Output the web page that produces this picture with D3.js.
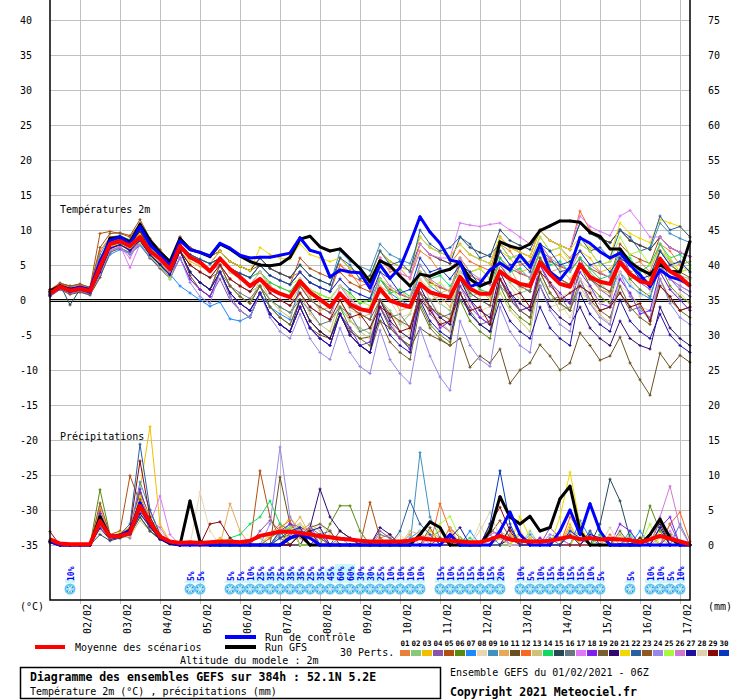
<!DOCTYPE html>
<html>
<head>
<meta charset="utf-8">
<script src="https://cdn.jsdelivr.net/npm/d3@7"></script>
<style>
  body { margin: 0; background: #fff; }
  svg { display: block; }
  text { font-family: "DejaVu Sans Mono", monospace; font-size: 10px; fill: #000; }
</style>
</head>
<body>
<svg id="chart" width="740" height="700"></svg>
<script>
// ---- data (6-hourly steps from 01/02 06Z, 65 steps = 384h) ----
const tempTicks = [-35,-30,-25,-20,-15,-10,-5,0,5,10,15,20,25,30,35,40];
const precipTicks = [0,5,10,15,20,25,30,35,40,45,50,55,60,65,70,75];
const dayLabels = ["02/02","03/02","04/02","05/02","06/02","07/02","08/02","09/02",
                   "10/02","11/02","12/02","13/02","14/02","15/02","16/02","17/02"];
const dayIdx = [3,7,11,15,19,23,27,31,35,39,43,47,51,55,59,63];

const memberColors = ["#e8803a","#88c878","#f0c000","#8855aa","#b05010","#5a8a10","#1e88ff","#e8d8b0",
  "#4090c0","#e8a858","#6a5020","#f86820","#d0c078","#10d860","#284858","#687880","#e078f8","#8020f0",
  "#7a6030","#300870","#f0d800","#2860a0","#905820","#9888e8","#a8f840","#d078d0","#2010a0","#e0d0b0",
  "#880808","#0838c0"];

const meanTemp = [0.9,1.9,1.3,1.6,1.3,4.7,8.0,8.4,7.7,9.0,7.0,5.9,4.4, 7.7,6.1,5.4,4.1, 5.9,4.4,3.3,2.0,
  3.0,1.6,0.9,0.4, 2.7,1.1,0.1,-1.0, 0.9,-0.6,-1.3,-1.6, 1.6,-0.1,-0.6,-1.0, 2.3,1.1,0.7,0.4,
  3.3,1.6,0.9,0.9, 4.1,3.0,2.3,2.0, 5.4,3.7,2.3,1.9, 5.1,3.3,2.6,2.3, 5.4,3.7,2.7,2.3, 5.9,4.1,3.3,2.0];
const controlTemp = [1.0,1.8,1.5,1.8,1.5,5.5,8.5,9,8,10.5,8,6.5,5, 8.5,7.2,6.8,6.3, 8.1,7.4,6.4,6.0,
  6.1,6.1,6.4,6.7, 8.9,7.1,6.7,3.3, 4.3,4.0,3.9,1.7, 5.0,3.1,4.6,8.1, 11.9,9.7,8.1,5.7,
  5.4,1.9,2.4,4.3, 5.3,4.3,6.4,4.7, 7.9,4.0,2.9,4.7, 8.9,8.1,6.9,6.0, 6.7,5.0,3.6,1.9, 4.3,3.3,2.9,2.1];
const gfsTemp = [1.2,2,1.5,1.8,1.4,5,8.8,9,8.3,10.8,8.5,6.8,5.5, 8.8,7.2,6.8,6.2, 8,7.3,6.3,5.5,
  5.0,4.9,5.1,6.1, 8.7,9.1,7.6,7.0, 7.3,5.9,4.5,2.6, 5.6,4.9,3.4,2.0, 3.7,3.4,4.0,4.4,
  5.4,3.0,2.0,2.6, 8.3,7.7,7.3,8.0, 9.9,10.6,11.3,11.3, 11.1,9.7,9.1,7.3, 7.3,5.4,4.4,3.7, 5.1,4.1,4.0,8.4];

const memberTemps = [
  [1.2,2.2,1.8,2,1.6,6,8.5,8.8,8,9.5,7.5,6.5,5, 8,6.5,5.8,5.2, 6,4.5,3.8,3.2, 5,3.5,2.8,2.2, 4,2.5,1.8,1.2, 5,4,2,2.5, 6,4,4.5,3, 7,6,4,4.5, 6,4,4.5,3, 8,7,5,5.5, 9,7,7.5,6, 8,7,5,5.5, 7,5,5.5,4, 8,7,5,5.5],
  [0.8,1.8,1.5,1.4,1.2,4,7.5,8,7.2,8.5,6.5,5,3.2, 8,6,5,4.2, 5,3,2,1.2, 2,0,-1,-1.8, 1,-1,-2,-2.8, -1,-3,-4,-4.8, 0,-1.5,-3.5,-2, 2,1,-0.5,-1.5, 3,0.5,1,0.5, 4,2.5,1,1.5, 6,3.5,3,2, 5,4,2.5,1, 6,3,3.5,2.5, 7,5.5,3.5,3],
  [1,2,1.4,1.7,1.3,4.5,8.2,8.6,7.8,9.2,7.4,6.2,4.6, 7,5.5,4.8,4.2, 6,4.5,3.8,3.2, 4,2.5,1.8,1.2, 3,1.5,0.8,0.2, 2,1,-0.5,0, 3,1,1.5,0, 4,3,1,1.5, 6,4,4.5,3, 7,6,4,4.5, 8,6,6.5,5, 7,6,4,4.5, 6,4,4.5,3, 7,6,4,4.5],
  [0.6,1.6,1,1.2,0.8,3.5,7,7.6,6.5,8,6,4.5,3, 6,3,1.5,0.5, 3,0,-1.5,-2.5, 1,-2,-3.5,-4.5, -1,-4,-5.5,-6.5, -2,-5,-6.5,-7.5, -1,-4,-5.5,-6.5, 1,-2,-3.5,-4.5, 2,-1,-2.5,-3.5, 3,0,-1.5,-2.5, 5,2,0.5,-0.5, 6,3,1.5,0.5, 7,4,2.5,1.5, 6,3,1.5,0.5],
  [1.5,2.4,2,2.2,1.8,9.5,9.8,9.5,9,11,8.5,7,5.5, 9,7.5,6.8,6.2, 7,5.5,4.8,4.2, 5,3.5,2.8,2.2, 6,4.5,3.8,3.2, 4,2.5,1.8,1.2, 3,1.5,0.8,0.2, 4,2.5,1.8,1.2, 5,3.5,2.8,2.2, 6,4.5,3.8,3.2, 7,5.5,4.8,4.2, 6,4.5,3.8,3.2, 8,6.5,5.8,5.2, 9,7.5,6.8,6.2],
  [0.7,1.7,1.2,1.5,1,4,7.6,8,7.4,8.7,6.6,5.2,3.8, 7,4,2.5,1.5, 5,2,0.5,-0.5, 2,-1,-2.5,-3.5, 0,-3,-4.5,-5.5, -1,-4,-5.5,-6.5, -1,-4,-5.5,-6.5, -0.5,-3.5,-5,-6, 0,-3,-4.5,-5.5, 2,-1,-2.5,-3.5, 4,1,-0.5,-1.5, 5,2,0.5,-0.5, 6,3,1.5,0.5, 5,2,0.5,-0.5],
  [0.9,2,1.5,1.8,1.4,3.5,6.5,7.2,6.6,7.8,6,4.8,3.7, 2,1,0,-0.9, -0.3,-2.7,-3,-2.3, 1,-1,-2,-2.8, 2,0,-1,-1.8, 1,-1,-2,-2.8, 3,1,0,-0.8, 4,2,1,0.2, 3,1,0,-0.8, 5,3,2,1.2, 6,4,3,2.2, 5,3,2,1.2, 4,2,1,0.2, 5,3,2,1.2],
  [1,2,1.6,1.8,1.5,5,8,8.5,7.8,9,7.2,6,4.5, 8,6,5,4.2, 6,4,3,2.2, 4,2,1,0.2, 3,1,0,-0.8, 1,-1.5,-2,-1, 0,-2.5,-3,-4.5, 1,0,-2,-2.5, 2,-0.5,-1.5,-1, 3,2,0,-1.5, 2,-1,-0.5,-2.5, 1,0,-2.5,-3, 2,1,-1,-1.5, 3,0.5,1,-0.5],
  [1.3,2.3,1.9,2.1,1.7,6.5,9,9.2,8.6,10.2,8,6.8,5.4, 9,7.5,6.8,6.2, 7,5.5,4.8,4.2, 6,4.5,3.8,3.2, 5,3.5,2.8,2.2, 7,5.5,4.8,4.2, 8,6.5,5.8,5.2, 9,7.5,6.8,6.2, 8,6.5,5.8,5.2, 9,7.5,6.8,6.2, 10,8.5,7.8,7.2, 11,9.5,8.8,8.2, 10,8.5,7.8,7.2, 11,9.5,8.8,8.2],
  [0.8,1.9,1.3,1.6,1.2,4.8,8,8.4,7.6,9,7,5.8,4.2, 7,5,4,3.2, 5,3,2,1.2, 3,1,0,-0.8, 2,0.5,-1.5,-1, 1,-0.5,-2.5,-2, 2,1,-1.5,-1, 3,0,0.5,-1, 4,3,1.5,0, 6,4.5,2,2.5, 7,4,4.5,3, 5,3.5,1.5,1, 6,5,3,2.5, 8,5.5,5,4],
  [0.5,1.5,0.8,1.1,0.7,3.2,6.8,7.4,6.8,8.2,6,4.6,3.2, 7,3.5,1.5,0.5, 4,0.5,-1.5,-2.5, 1,-2,-3.5,-4.5, -1,-4,-5,-5.5, -2,-4.5,-5.5,-5.3, -3,-4,-5.3,-7, -4,-5,-5.7,-6.5, -5.5,-9.6,-8,-9, -7,-11.9,-10,-9, -6.4,-8,-10,-9, -4.7,-6.5,-8.6,-8, -5.3,-9,-11.4,-13.6, -7.6,-9.6,-7.9,-8.9],
  [1.4,2.3,1.9,2.2,1.7,7,9,9,8.4,10,7.8,6.6,5, 9,7.5,6.8,6.2, 7,5.5,4.8,4.2, 6,4.5,3.8,3.2, 4,2.5,1.8,1.2, 5,3.5,2.8,2.2, 6,4.5,3.8,3.2, 8,6.5,5.8,5.2, 7,5.5,4.8,4.2, 9,7.5,6.8,6.2, 10,8.5,7.8,7.2, 12.7,10,8.8,8.2, 10,8.5,7.8,7.2, 9,7.5,6.8,6.2],
  [0.7,1.7,1.1,1.4,1,4.2,7.6,8,7.3,8.6,6.6,5.4,3.9, 7,4,2.5,1.5, 5,2,0.5,-0.5, 3,0,-1.5,-2.5, 1,-2,-3.5,-4.5, 0,-3,-4.5,-5.5, -1,-3,-5.5,-5, 1,-1.5,-3,-4.5, 2,0,-2.5,-2, 1,-1.5,-3,-4.5, 3,1,-1.5,-1, 2,-0.5,-2,-3.5, 3,1,-1,-2.5, 4,1.5,0,-1.5],
  [1,2,1.4,1.7,1.4,5,8.3,8.6,7.9,9.3,7.3,6.1,4.6, 8,6.5,5.8,5.2, 6,4.5,3.8,3.2, 4,2.5,1.8,1.2, 3,1.5,0.8,0.2, 2,1,-0.5,0, 3,1,1.5,0.5, 5,3,3.5,2, 4,3,1.5,1, 6,4,4.5,3, 7,5,5.5,4, 6,4.5,3,3.5, 7,6,4,5, 8,6,6.5,5],
  [1.1,2.2,-0.7,1.5,1.2,4,8,8.8,8.2,9.8,7.6,6.4,5, 8,6.5,5.8,5.2, 7,5.5,4.8,4.2, 6,4.5,3.8,3.2, 5,3.5,2.8,2.2, 6,4.5,3.8,3.2, 7,5.5,4.8,4.2, 8,6.5,5.8,5.2, 9,7.5,6.8,6.2, 10,8.5,7.8,7.2, 10,8.5,7.8,7.2, 11,9.5,8.8,8.2, 10,8.5,7.8,7.2, 9,7.5,6.8,6.2],
  [0.9,1.8,1.2,1.5,1.1,4.4,7.8,8.2,7.4,8.8,6.8,5.6,4, 7,5,4,3.2, 4,2,1,0.2, 2,0,-1,-1.8, 0,-1.5,-3.5,-3, -1,-2,-4.5,-4, 0,-2.5,-2,-4, 1,0,-2.5,-2, 0,-1.5,-3.5,-3, 2,0.5,-1.5,-1, 3,0,0.5,-1.5, 2,1,-1.5,-1, 1,-1.5,-1,-3, 2,0.5,-1.5,-1],
  [1.2,2,1.5,1.8,1.4,5.5,7.5,7.8,4.6,8,7,6,4.8, 8,6.5,5.8,5.2, 6,4.5,3.8,3.2, 5,3.5,2.8,2.2, 4,2.5,1.8,1.2, 3,1.5,0.8,0.2, 6,4.5,3.8,3.2, 8,6.5,6,6, 11,10.7,10.5,10.8, 11,10,9,8, 10,8.5,7.8,7.2, 12,10.5,9.8,9.2, 12,12.8,11,9, 9,7.5,6.8,6.2],
  [0.6,1.6,1,1.3,0.9,3.8,7.4,7.9,7,8.4,6.4,5,3.5, 6,3,1.5,0.5, 4,1,-0.5,-1.5, 1,-2,-3.5,-4.5, -1,-4,-5.5,-6.5, -2,-4,-6.5,-6, -1,-3.5,-5.5,-7, 1,-1,-4,-3, 2,0,-2.5,-3.5, 3,1,-1.5,-1, 5,2.5,1,-0.5, 4,2,-0.5,-1, 3,1,-2,-1.5, 4,1.5,0,-1.5],
  [0.8,1.9,1.3,1.6,1.2,4.6,8,8.3,7.5,9,6.9,5.6,4.1, 7,4,2.5,1.5, 5,2,0.5,-0.5, 2,-1,-2.5,-3.5, 0,-3,-4.5,-5.5, -2,-5,-6.5,-7.5, -3,-6,-7.5,-8.5, -1,-4,-5.5,-6.5, 1,-2,-3.5,-4.5, 3,0,-1.5,-2.5, 4,1,-0.5,-1.5, 3,0,-1.5,-2.5, 2,-1,-2.5,-3.5, 3,0,-1.5,-2.5],
  [0.7,1.7,1.1,1.4,1,3.9,7.3,7.9,7.2,8.5,6.5,5.1,3.6, 7,4,2.5,1.5, 4,1,-0.5,-1.5, 1,-2,-3.5,-4.5, 0,-3,-4.5,-5.5, -2,-5,-6.5,-7.5, 0,-3,-4.5,-5.5, 2,-1,-2.5,-3.5, 3,0,-1.5,-2.5, 4,1,-0.5,-1.5, 2,-1,-2.5,-3.5, -1,-4,-5.5,-6.5, -3,-5.5,-6.5,-7, -1,-4,-5.5,-6.5],
  [1.1,2.1,1.6,1.9,1.5,5.2,8.4,8.8,8,9.5,7.5,6.3,4.8, 8,6.5,5.8,5.2, 7,5.5,4.8,4.2, 7.5,6.5,6,5.8, 8,6.5,6,5.5, 6,4.5,3.8,3.2, 7,5.5,4.8,4.2, 9,7.5,6.8,6.2, 8,6.5,5.8,5.2, 9,7.5,6.8,6.2, 10,8.5,7.8,7.2, 9,7.5,6.8,6.2, 11,9.5,8.8,8.2, 11.5,11,10.5,9],
  [1,2,1.5,1.8,1.3,5,8.5,8.9,8.3,10,7.6,6.3,4.8, 8,6.5,5.8,5.2, 6,4.5,3.8,3.2, 5,3.5,2.8,2.2, 4,2.5,1.8,1.2, 6,5,3,3.5, 7,5,5.5,4, 10,8,7,7.5, 9,8,6,6.5, 8,6,6.5,5, 7,6,4,4.5, 9,7,7.5,6, 10,9,7,7.5, 12,10,10.5,9],
  [1.3,2.4,2,2.3,1.8,7.5,9.5,9.6,9.2,11.5,8.8,7.2,5.6, 8,6,5,4.2, 6,4,3,2.2, 4,2,1,0.2, 2,0,-1,-1.8, 1,-1,-2,-2.8, 0,-2,-3,-3.8, 1,-1,-2,-2.8, 3,1,0,-0.8, 5,3,2,1.2, 6,4,3,2.2, 5,3,2,1.2, 6,4,3,2.2, 7,5,4,3.2],
  [0.6,1.6,1,1.3,0.9,3.6,7,7.5,6.6,8,6.1,4.7,3.3, 6,2.5,0.5,-0.5, 4,0.5,-1.5,-2.5, 1,-2.5,-4.5,-5.5, -2,-5.5,-7.5,-8.5, -4,-7.5,-9.5,-10.5, -4.3,-8.5,-10.5,-11.9, -4,-8,-11,-12.9, -3,-6.5,-8.5,-9.5, -1,-4.5,-6.5,-7.5, 2,-1.5,-3.5,-4.5, 3,-0.5,-2.5,-3.5, 4,0.5,-1.5,-2.5, 3,-0.5,-2.5,-3.5],
  [1,2,1.5,1.8,1.3,4.5,7.8,8,7.4,8.2,6.3,4.8,3, 8,6.5,5.8,5.2, 6,4.5,3.8,3.2, 5,3.5,2.8,2.2, 3,1.5,0.8,0.2, 2,0.5,-0.2,-0.8, 3,2,0,0.5, 4,2,2.5,1, 6,4,4.5,3, 8,6,6.5,5, 9,7,7.5,5.5, 8,7,5,5.5, 9,6.5,7,5, 7,6,4,4.5],
  [1.2,2.2,1.7,2,1.6,5.5,7.2,7.6,6,8.6,6.8,5.5,4, 8,6,5,4.2, 5,3,2,1.2, 3,1,0,-0.8, 1,-1,-2,-2.8, 2,0,-1,-1.8, 4,2,1,0.2, 5,3,2,1.2, 6,4,3,2.2, 7,5,4,3.2, 8,6,5,4.2, 7,5,4,3.2, 6,4,3,2.2, 5,3,2,1.2],
  [0.7,1.7,1.1,1.4,1,4,7.4,7.9,7.1,8.5,6.4,5,3.6, 7,4,2.5,1.5, 4,1,-0.5,-1.5, 1,-2,-3.5,-4.5, -1,-4,-5.5,-6.5, -2,-5,-6.5,-7.5, -2,-5,-6.5,-7.5, 0,-3,-4.5,-5.5, 1,-2,-3.5,-4.5, 0,-3,-4.5,-5.5, -1,-4,-5.5,-6.5, 1,-2,-3.5,-4.5, 0,-3,-4.5,-5.5, -2,-5,-6.5,-7.5],
  [1,1.9,1.4,1.7,1.3,4.8,8.1,8.5,7.7,9,7.1,5.9,4.4, 8,6,5,4.2, 6,4,3,2.2, 4,2,1,0.2, 3,1.5,-0.5,0, 2,0.5,-1.5,-1, 1,0,-2.5,-2, 3,1.5,-0.5,0.5, 4,2.5,0.5,1, 5,3.5,1.5,2, 4,2.5,0.5,1, 3,1.5,-0.5,0, 4,2.5,0.5,1, 6,4,2.5,3],
  [1.5,2.1,1.6,1.9,1.5,5,8.2,8.6,7.9,9.8,7.2,6,4.5, 7,5,4,3.2, 5,3,2,1.2, 3,1,0,-0.8, 1,-1,-2,-2.8, 0,-2.5,-2,-4, -1,-2,-4.5,-4, 0,-1.5,-3.5,-3, 1,-1.5,-1,-3.5, 3,0.5,1,-1, 4,2.5,0,1, 2,1,-1.5,-1, 1,-1,-0.5,-3, 2,0.5,-1.5,-1],
  [1.1,2.1,1.6,1.8,1.4,5.3,8.6,9,8.2,10,7.6,6.4,4.9, 8,6.5,5.8,5.2, 6,4.5,3.8,3.2, 5,3.5,2.8,2.2, 4,2.5,1.8,1.2, 3,1.5,0.8,0.2, 4,3,1,1.5, 6,4,4.5,3, 5,4,2,2.5, 7,5,5.5,4, 8,7,5,5.5, 7,5,5.5,4, 6,5,3,3.5, 7,5,5.5,4]
];

const meanPrecip = [0.8,0.2,0.1,0.1,0.1,3.4,1.2,1.3,1.7,5.6,3.2,1.2,0.5, 0.3,0.4,0.3,0.4, 0.5,0.5,0.4,0.6,
  1.3,1.6,1.9,1.9, 1.7,1.5,1.3,1.1, 0.9,0.8,0.6,0.5, 0.5,0.5,0.5,0.6, 1.0,0.8,0.7,0.6,
  0.5,0.4,0.4,0.8, 1.3,0.8,0.6,0.5, 0.5,0.6,0.9,1.2, 0.8,1.0,0.8,0.9, 0.8,0.7,0.4,0.8, 1.3,0.9,0.5,0.1];
const controlPrecip = [.5,0,0,0,0,3.5,1.2,1.4,2,6,3,1,.3, 0,0,0,0, 0,0,0,0, 0,0,0,1, 1.5,1,0,0, 0,0,0,0,
  0,0,0,0, 0,0,0,1.5, 0,0,0,0, 2,4.7,1.5,0, 0,0,2,5, 1.5,5.9,2,0, 0,0,0,0, 0,0,0,0];
const gfsPrecip = [.5,0,0,0,0,4,1.2,1.2,2,5.5,3,1,.2, 0,6.3,.5,0, 0,0,0,0, 0,0,0,1, 1.5,0,0,0, 0,0,0,0,
  0,0,0,0, 1.5,3.3,2.5,0, 0,0,0,2, 6.9,4,3,4.1, 2,2.5,6.6,8.4, 2,0,0,0, 0,0,0,1.5, 3.7,1,0,0];

const memberPrecip = [
  [.5,0,0,0,0,4,1,1.5,2,6,3,1,.3, 0,0,0,0, 0,0,0,0, 0,1.5,3,2, 1,0,0,0, 0,0,0,0, 1,1.5,0,0, 0,1,2,0, 0,0,0,0, 1,0,0,0, 1,0,0,2, 1.5,0,0,1.5, 0,0,0,1, 0,0,0,0],
  [.3,0,0,0,0,3,1,1,1.5,5,2.5,1,.2, 0,0,0,0, 0,0,0,.5, 1,0,0,2.5, 3,1.5,0,0, 0,0,0,0, 0,0,0,1.5, 0,0,0,0, 1,.5,0,0, 0,0,0,2, 0,1,0,0, 0,0,0,0, 1.5,0,0,0, 0,1.5,0,0],
  [.4,0,0,0,0,2.5,1,1.2,2,8,16.9,3,.5, 0,0,0,0, 1,0,0,0, 0,0,2,4, 2,1,0,0, 0,0,0,0, 0,0,0,0, 0,2,1,0, 0,0,0,0, 0,0,2,0, 0,0,0,3, 0,0,1.5,0, 0,0,0,0, 2,0,0,0],
  [.6,0,0,0,0,3.5,1.2,1.5,1,7,3.5,1.5,.3, 0,0,0,0, 0,0,0,0, 2,3.5,2,0, 0,0,1.5,2, 0,0,0,0, 2,1,0,0, 0,0,0,0, 0,0,0,0, 0,1.5,0,0, 0,2.5,1,0, 0,0,0,0, 0,1,0,0, 0,3,0,0],
  [.5,0,0,0,0,5,1.5,2,9.9,6,2,.8,.2, 0,0,0,0, 0,0,0,0, 10.6,4,1,0, 0,2,1,0, 0,0,0,6.1, 1,0,0,0, 0,0,0,2.5, 1,0,0,0, 0,0,0,0, 0,0,0,0, 0,0,0,0, 0,0,0,0, 0,0,0,0],
  [.8,0,0,0,0,7.9,1.5,1,1.5,4,2,1,.3, 0,0,0,0, 0,0,0,0, 0,1,2,0, 0,0,0,3, 5.6,5.6,2,0, 0,0,0,0, 0,0,0,0, 0,0,0,2.5, 1,0,0,0, 0,0,0,0, 0,0,0,0, 0,0,0,5.6, 2,0,0,0],
  [.4,0,0,0,0,4.5,1,1.3,2.5,5.5,3,1,.2, 0,0,0,0, 0,0,0,0, 0,0,0,1, 2,3,0,0, 0,0,0,0, 0,0,0,1, 2,0,0,0, 0,2,0,1.5, 0,0,0,1.5, 0,0,0,0, 3.5,1,0,0, 0,0,2,0, 0,0,0,0],
  [.3,0,0,0,0,2,.8,1,1.5,4,4.5,2,.5, 0,0,7.6,2, 0,0,0,0, 0,0,0,0, 0,2,3,1.5, 0,0,0,0, 0,0,1.5,0, 0,0,0,0, 0,0,3,0, 0,0,0,0, 0,0,0,2, 0,0,0,0, 0,0,0,1, 0,0,0,0],
  [.5,0,0,0,0,3,1,1.5,2,9,5,1.5,.3, 0,0,0,0, 0,0,0,0, 0,0,1.5,3, 2,0,0,0, 0,0,0,0, 0,0,0,0, 13.2,4,1,0, 0,0,0,0, 0,0,0,0, 0,1,0,0, 0,0,0,0, 0,2,0,0, 0,0,3,0],
  [.4,0,0,0,0,5.5,1.2,1,1.8,5,3,1,.4, 0,0,0,0, 0,5.9,2,0, 0,0,0,2, 4,1.5,0,0, 0,0,0,0, 0,0,0,1.5, 0,0,0,2.5, 0,0,0,0, 0,1.5,0,0, 0,0,0,2.5, 0,0,0,0, 1,0,0,0, 1,0,0,0],
  [.6,0,0,0,0,3,1,1.4,1.5,7.5,4,1.2,.2, 0,0,0,0, 0,0,0,0, 0,0,9.7,3, 1.5,0,0,0, 2,1,0,0, 0,0,0,0, 0,0,1,0, 0,0,0,0, 0,0,1.5,0, 0,0,0,0, 0,0,0,0, 0,0,0,0, 0,0,0,0],
  [.5,0,0,0,0,4,1.3,1.6,2.5,5,2.5,.8,.3, 0,0,0,0, 0,0,0,0, 0,1,2.5,3.5, 0,0,0,0, 0,0,0,0, 0,0,0,0, 0,0,5.9,2, 0,0,0,0, 0,2.5,0,0, 0,0,0,4, 2,0,0,0, 0,0,0,0, 0,3,4.7,.5],
  [.3,0,0,0,0,2.5,.8,1,1.2,3.5,2,.7,.2, 0,0,0,0, 0,0,0,0, 0,0,0,0, 2,3,2,1, 0,0,0,0, 0,0,0,2, 1.5,0,0,0, 0,0,0,0, 2,1,0,0, 0,0,0,0, 2.5,0,0,0, 0,0,1,0, 0,0,0,0],
  [.4,0,0,0,0,3,1,1.2,2,6.5,3,1,.3, 0,0,0,0, 0,1,1.5,3, 4,6.3,3,2, 1.5,0,0,0, 0,0,0,0, 0,0,0,0, 0,0,0,0, 0,1,0,0, 2,0,0,0, 0,0,0,0, 0,0,1.5,0, 0,1.5,0,0, 2.5,0,0,0],
  [.5,0,0,0,0,1.5,.6,1,1.5,4,2,.8,.2, 0,0,0,0, 0,0,0,0, 0,0,1,1.5, 2,0,0,0, 0,0,0,0, 0,0,0,0, 0,0,0,0, 1,0,0,0, 0,0,0,0, 0,0,0,1.5, 0,0,3,9.4, 6.3,1,0,0, 0,0,0,0],
  [.4,0,0,0,0,3.5,1.1,1.3,1.8,5.5,3.5,1,.3, 0,0,0,0, 0,0,0,0, 0,0,0,0, 1.5,2.5,1.5,0, 0,0,0,0, 1.5,1,0,0, 0,0,0,1.5, 0,0,0,0, 0,0,0,1, 0,0,0,0, 0,2,0,0, 0,0,0,1.5, 0,0,0,0],
  [.3,0,0,0,0,2.5,1,1.5,2,4.5,3,7,1.5, 0,0,0,0, 0,0,0,0, 0,0,0,1, 2,0,0,0, 0,0,0,0, 0,0,0,0, 0,1.5,0,0, 0,0,0,2, 1.5,0,0,0, 0,0,0,0, 0,0,0,0, 0,1,0,0, 0,2,0,0],
  [.5,0,0,0,0,4.5,1.3,1.2,2,8,3.5,1.2,.3, 0,0,0,0, 0,0,0,0, 0,0,2,3, 2.5,0,1.5,0, 0,0,0,0, 0,0,0,0, 0,0,0,0, 0,0,0,0, 0,0,0,0, 1,0,0,0, 0,0,0,0, 3,2,0,0, 2.5,4,0,0],
  [.6,0,0,0,0,3.8,1,1.4,1.6,6,2.8,1,.2, 0,0,0,0, 0,0,0,0, 0,0,0,0, 1.5,2.5,3,2, 0,0,0,0, 0,0,0,0, 0,2.5,0,0, 0,0,0,0, 0,1,0,0, 0,0,0,0, 2,0,0,0, 2,0,0,0, 0,1.5,0,0],
  [.4,0,0,0,0,3,1,1.6,2.2,5,3,1,.3, 0,0,0,0, 0,0,0,0, 0,0,0,0, 0,2.5,8,4, 2,1,0,0, 2.5,1.5,0,0, 0,0,0,0, 0,0,0,0, 0,1,0,0, 0,0,0,0, 0,0,0,0, 0,0,0,1.5, 3,0,0,0],
  [.5,0,0,0,0,3.2,1.2,1.8,2.5,7,4,1.5,.3, 0,0,0,0, 0,0,0,0, 0,0,0,2, 3,2,0,0, 0,0,0,0, 0,0,0,0, 0,0,0,0, 0,0,0,0, 0,0,4.1,1, 0,0,4,10.4, 3,0,0,0, 0,0,0,1.5, 0,0,0,0],
  [.4,0,0,0,0,4,1.4,1.5,3,14.4,5,1.5,.4, 0,0,0,0, 0,0,0,0, 0,0,2,2.5, 0,0,0,0, 0,0,0,0, 0,0,2,6.3, 3,1.5,0,0, 0,0,0,0, 0,0,0,0, 0,0,0,0, 0,2,0,0, 0,0,1,0, 0,0,0,0],
  [.5,0,0,0,0,6,1.5,1.2,2,6.5,3,1,.2, 0,0,0,0, 0,0,0,0, 0,0,0,1.5, 2.5,2,1,0, 0,0,0,0, 0,0,0,0, 0,0,0,0, 0,0,0,1.5, 3.5,1,0,0, 0,0,0,0, 0,0,0,0, 0,0,0,0, 3.5,0,0,0],
  [.3,0,0,0,0,2.8,.9,1.1,1.4,4.5,2.5,.9,.2, 0,0,0,0, 0,0,0,0, 0,3,14,4, 1.5,0,0,0, 1,0,0,0, 0,0,0,0, 0,0,0,0, 0,0,0,0, 0,0,0,0, 0,1.5,1,0, 0,0,0,0, 0,0,0,0, 0,0,0,0],
  [.4,0,0,0,0,3.6,1.1,1.3,1.8,5.5,3.2,1.1,.3, 0,0,0,0, 0,0,0,0, 0,1.5,2,2.5, 0,0,0,0, 0,0,0,0, 0,0,0,0, 0,0,3,4.1, 1,0,0,0, 0,0,1.5,0, 0,0,0,0, 2,0,1,0, 0,0,0,3, 0,0,0,0],
  [.5,0,0,0,0,3,1,1.4,2.2,6,3.6,2.5,.4, 0,0,0,0, 0,0,0,0, 0,0,0,1.5, 2,2.5,0,0, 0,0,0,0, 0,0,0,0, 0,0,0,0, 0,0,0,1.5, 2,0,0,0, 0,0,0,0, 0,0,0,0, 0,0,0,0, 4,8.4,2.5,0],
  [.4,0,0,0,0,2.4,.8,1.1,1.5,4.5,2.6,.8,.2, 0,0,0,0, 0,0,0,0, 0,0,0,0, 1.5,2,2.5,0, 0,0,0,0, 0,0,0,0, 0,0,0,1, 2.5,0,0,0, 0,2.5,0,0, 0,0,0,0, 0,1.5,1,0, 0,0,0,0, 2.5,0,0,0],
  [.3,0,0,0,0,3.3,1,1.2,1.7,5,3,1,.3, 0,0,0,0, 0,0,0,0, 0,0,1,2, 3,1.5,0,0, 0,0,0,0, 0,0,0,0, 2,0,0,0, 0,0,2,4.7, 1,0,0,0, 0,0,0,0, 0,0,0,2.5, 0,0,0,0, 0,0,0,0],
  [1.9,0,0,0,0,4,1.2,1.3,2.4,12,4,1.3,.3, 0,0,0,3, 3.3,1,0,0, 0,0,0,0, 1.5,2,0,0, 0,0,0,0, 0,0,0,0, 0,0,0,0, 0,0,0,3, 5.4,2,0,0, 0,0,0,0, 0,0,0,0, 0,0,1,0, 0,0,0,0],
  [.4,0,0,0,0,3.5,1.1,1.4,2,6,3.2,1.1,.3, 0,0,0,0, 0,0,0,0, 0,0,1,2, 2.5,0,0,0, 0,0,0,0, 0,0,0,0, 0,0,0,0, 0,0,0,3, 10.6,3,0,0, 0,0,0,2, 1,0,0,0, 0,0,0,0, 0,0,0,0]
];

// snow probability (step index, percent)
const snowSteps = [2,14,15,18,19,20,21,22,23,24,25,26,27,28,29,30,31,32,33,34,35,36,37,
  39,40,41,42,43,44,45,47,48,49,50,51,52,53,54,55,58,60,61,62,63];
const snowPct = [10,5,5,5,5,10,25,35,25,35,35,25,35,45,60,60,30,30,25,10,10,10,10,
  15,10,15,15,10,15,20,10,5,10,15,10,15,15,10,5,5,10,10,5,10];

// ---- chart ----
const width = 740, height = 700;
const plotBottom = 600;
const svg = d3.select("#chart");
svg.append("rect").attr("width", width).attr("height", height).attr("fill", "#fff");

const x = d3.scaleLinear().domain([0, 64]).range([50, 690]);
const yT = d3.scaleLinear().domain([-35, 40]).range([545, 20]);
const yP = d3.scaleLinear().domain([0, 75]).range([545, 20]);

// horizontal grid + left labels
svg.append("g")
  .attr("transform", `translate(${x(0)},0)`)
  .call(d3.axisLeft(yT).tickValues(tempTicks).tickSize(-(x(64) - x(0))).tickFormat(d => d))
  .call(g => {
    g.select(".domain").remove();
    g.attr("font-family", "Liberation Sans, Arial, sans-serif").attr("font-size", 11);
    g.selectAll(".tick line").attr("stroke", "#c0c0c0");
    g.selectAll(".tick text").attr("x", -30).attr("text-anchor", "start").attr("fill", "#000");
  });

// right labels (mm)
svg.append("g")
  .attr("transform", `translate(${x(64)},0)`)
  .call(d3.axisRight(yP).tickValues(precipTicks).tickSize(0).tickFormat(d => d))
  .call(g => {
    g.select(".domain").remove();
    g.attr("font-family", "Liberation Sans, Arial, sans-serif").attr("font-size", 11);
    g.selectAll(".tick text").attr("x", 18).attr("text-anchor", "start").attr("fill", "#000");
  });

// vertical day grid + rotated date labels
svg.append("g")
  .attr("transform", `translate(0,${plotBottom + 4})`)
  .call(d3.axisBottom(x).tickValues(dayIdx).tickSize(-(plotBottom + 4)).tickFormat((d, i) => dayLabels[i]))
  .call(g => {
    g.select(".domain").remove();
    g.attr("font-family", null).attr("font-size", null);
    g.selectAll(".tick line").attr("stroke", "#c0c0c0");
    g.selectAll(".tick text")
      .attr("x", 0).attr("y", 0).attr("dy", null)
      .attr("text-anchor", "end")
      .attr("transform", "translate(10,0) rotate(-90)")
      .attr("fill", "#000");
  });

// zero line (double)
[yT(0) - 0.5, yT(0) + 1.5].forEach(yy => {
  svg.append("line").attr("x1", x(0)).attr("x2", x(64)).attr("y1", yy).attr("y2", yy)
    .attr("stroke", "#000").attr("stroke-width", 1);
});

const lineT = d3.line().x((d, i) => x(i)).y(d => yT(d));
const lineP = d3.line().x((d, i) => x(i)).y(d => yP(d));

function marks(values, ys) {
  return values.map((v, i) => `M${x(i) - 1.5},${ys(v)}h3M${x(i)},${ys(v) - 1.5}v3`).join("");
}

const series = svg.append("g").attr("fill", "none");

memberTemps.forEach((vals, m) => {
  series.append("path").attr("d", lineT(vals)).attr("stroke", memberColors[m]).attr("stroke-width", 1);
  series.append("path").attr("d", marks(vals, yT)).attr("stroke", memberColors[m]).attr("stroke-width", 1);
});
memberPrecip.forEach((vals, m) => {
  series.append("path").attr("d", lineP(vals)).attr("stroke", memberColors[m]).attr("stroke-width", 1);
  series.append("path").attr("d", marks(vals, yP)).attr("stroke", memberColors[m]).attr("stroke-width", 1);
});

// GFS and control runs
[[gfsTemp, gfsPrecip, "#000000"], [controlTemp, controlPrecip, "#0000ff"]].forEach(([t, p, c]) => {
  series.append("path").attr("d", lineT(t)).attr("stroke", c).attr("stroke-width", 3).attr("stroke-linejoin", "round");
  series.append("path").attr("d", lineP(p)).attr("stroke", c).attr("stroke-width", 3).attr("stroke-linejoin", "round");
  series.append("path").attr("d", marks(t, yT) + marks(p, yP)).attr("stroke", c).attr("stroke-width", 1);
});

// ensemble mean
series.append("path").attr("d", lineT(meanTemp)).attr("stroke", "#ff0000").attr("stroke-width", 4).attr("stroke-linejoin", "round");
series.append("path").attr("d", lineP(meanPrecip)).attr("stroke", "#ff0000").attr("stroke-width", 4).attr("stroke-linejoin", "round");

// frame
svg.append("path")
  .attr("d", `M${x(0)},0V${plotBottom}H${x(64)}V0`)
  .attr("fill", "none").attr("stroke", "#000").attr("stroke-width", 1.5);

// inner labels
svg.append("text").attr("x", 60).attr("y", 213).text("Températures 2m");
svg.append("text").attr("x", 60).attr("y", 440).text("Précipitations");
svg.append("text").attr("x", 20).attr("y", 610).text("(°C)");
svg.append("text").attr("x", 708).attr("y", 610).text("(mm)");

// snow row
const snow = svg.append("g");
const snowData = snowSteps.map((s, i) => ({ s, p: snowPct[i] }));
snow.selectAll("rect").data(snowData).join("rect")
  .attr("x", d => x(d.s) - 5).attr("width", 10)
  .attr("y", d => 583 - (d.p * 0.3 + 1)).attr("height", d => d.p * 0.3 + 1)
  .attr("fill", "#c8f8f8");
const flakes = snow.selectAll("g.flake").data(snowData).join("g")
  .attr("class", "flake")
  .attr("transform", d => `translate(${x(d.s)},589)`);
flakes.append("circle").attr("r", 5.5).attr("fill", "#68c4ec");
flakes.append("path")
  .attr("d", "M-4,0H4M-2,-3.5L2,3.5M-2,3.5L2,-3.5")
  .attr("stroke", "#d8f4ff").attr("stroke-width", 1);
flakes.append("path")
  .attr("d", "M-3,-2h1v1h-1zM2,-2h1v1h-1zM-3,2h1v1h-1zM2,2h1v1h-1z")
  .attr("fill", "#2a88d8");
snow.selectAll("text").data(snowData).join("text")
  .attr("transform", d => `translate(${x(d.s) + 3.5},581) rotate(-90)`)
  .attr("text-anchor", "start")
  .style("font-size", "8px").style("font-weight", "bold").style("fill", "#0000ff")
  .text(d => d.p + "%");

// legend
const legend = svg.append("g");
legend.append("line").attr("x1", 35).attr("x2", 65).attr("y1", 647).attr("y2", 647).attr("stroke", "#ff0000").attr("stroke-width", 4);
legend.append("text").attr("x", 75).attr("y", 651).text("Moyenne des scénarios");
legend.append("line").attr("x1", 225).attr("x2", 256).attr("y1", 637).attr("y2", 637).attr("stroke", "#0000ff").attr("stroke-width", 4);
legend.append("line").attr("x1", 225).attr("x2", 256).attr("y1", 647).attr("y2", 647).attr("stroke", "#000").attr("stroke-width", 4);
legend.append("text").attr("x", 265).attr("y", 641).text("Run de contrôle");
legend.append("text").attr("x", 265).attr("y", 651).text("Run GFS");
legend.append("text").attr("x", 340).attr("y", 656).text("30 Perts.");
legend.append("text").attr("x", 180).attr("y", 664).text("Altitude du modele : 2m");

memberColors.forEach((c, i) => {
  const bx = 400 + i * 11;
  legend.append("rect").attr("x", bx).attr("y", 650).attr("width", 10).attr("height", 6).attr("fill", c);
  legend.append("text").attr("x", bx + 5).attr("y", 646).attr("text-anchor", "middle")
    .style("font-size", "7.5px").style("font-weight", "bold")
    .text(String(i + 1).padStart(2, "0"));
});

// title box
svg.append("rect").attr("x", 20.5).attr("y", 667.5).attr("width", 420).attr("height", 31)
  .attr("fill", "none").attr("stroke", "#000").attr("stroke-width", 1.5);
svg.append("text").attr("x", 30).attr("y", 681).style("font-size", "11.5px").style("font-weight", "bold")
  .text("Diagramme des ensembles GEFS sur 384h : 52.1N 5.2E");
svg.append("text").attr("x", 30).attr("y", 695).text("Température 2m (°C) , précipitations (mm)");
svg.append("text").attr("x", 450).attr("y", 676).text("Ensemble GEFS du 01/02/2021 - 06Z");
svg.append("text").attr("x", 450).attr("y", 696).style("font-size", "11.5px").style("font-weight", "bold")
  .text("Copyright 2021 Meteociel.fr");
</script>
</body>
</html>
